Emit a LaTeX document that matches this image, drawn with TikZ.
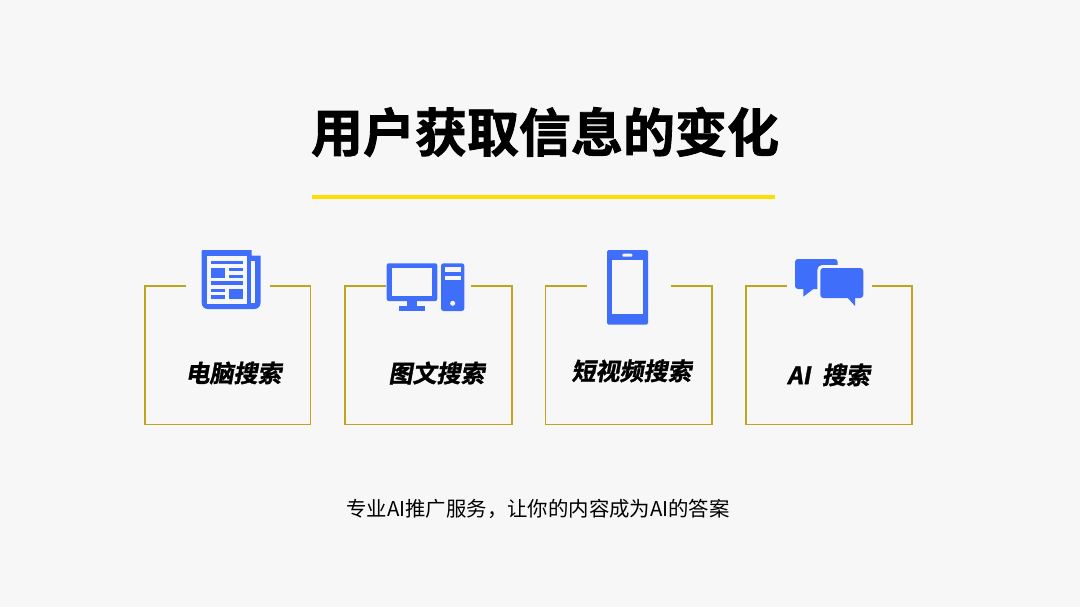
\documentclass[tikz,border=0pt]{standalone}
\usepackage{fontspec}
\newfontfamily\cjkreg{Noto Sans CJK SC}
\newfontfamily\cjkbold{Noto Sans CJK SC Bold}[FakeBold=1.6]
\newfontfamily\cjkslant{Noto Sans CJK SC Bold}[FakeSlant=0.18,FakeBold=1.4]
\definecolor{bgc}{HTML}{F7F7F7}
\definecolor{iconblue}{HTML}{3F6FFA}
\definecolor{boxgold}{HTML}{BFA51C}
\definecolor{ruley}{HTML}{FFDD00}
\tikzset{
  framebox/.style={draw=boxgold,line width=1.6pt,line join=miter},
  ico/.style={fill=iconblue,draw=none},
  icohole/.style={fill=bgc,draw=none},
  cardlabel/.style={font=\fontsize{24}{24}\selectfont\cjkslant,text=black,inner sep=0pt,anchor=center},
}
\newcommand{\cardframe}[4]{% left right gapL gapR
  \draw[framebox] (#3,285.7) -- (#1,285.7) -- (#1,424.5) -- (#2,424.5) -- (#2,285.7) -- (#4,285.7);}
\begin{document}
\begin{tikzpicture}[x=1pt,y=-1pt]
\useasboundingbox (0,0) rectangle (1080,607);
\fill[bgc] (0,0) rectangle (1080,607);

\node[font=\fontsize{52}{52}\selectfont\cjkbold,text=black,inner sep=0pt] (title) at (545,132) {用户获取信息的变化};
\fill[ruley] (312,195) rectangle (775,199);

\cardframe{144.7}{310.5}{185.7}{270.3}
\cardframe{345}{512}{386}{471}
\cardframe{545.3}{712}{586.7}{671}
\cardframe{745.7}{912}{786.7}{871.7}

% newspaper
\fill[ico] (201.7,251) arc[start angle=180,end angle=270,radius=1] -- (251.5,250) -- (251.5,255.7) -- (260.5,255.7) -- (260.5,303) arc[start angle=0,end angle=90,radius=6] -- (207.7,309) arc[start angle=90,end angle=180,radius=6] -- cycle;
\fill[icohole] (206.7,255.7) rectangle (247.3,304);
\fill[icohole] (251.2,260.7) rectangle (255,303.3);
\fill[ico] (210.7,260.7) rectangle (243.3,264);
\fill[ico] (210.7,267.7) rectangle (225,277.7);
\fill[ico] (229,268) rectangle (243.3,271);
\fill[ico] (229,274.7) rectangle (243.3,278);
\fill[ico] (210.7,281.3) rectangle (243.3,284.7);
\fill[ico] (210.7,288.7) rectangle (225,292);
\fill[ico] (210.7,295.3) rectangle (225,298.7);
\fill[ico] (229,288.7) rectangle (243.3,298.7);

% computer
\fill[ico,rounded corners=2pt] (386.7,263.3) rectangle (437.3,301);
\fill[icohole] (391.7,268.3) rectangle (432.3,296);
\fill[ico] (407.3,300) rectangle (416.7,306);
\fill[ico] (399.3,306) rectangle (425,311);
\fill[ico,rounded corners=2.5pt] (441,263.3) rectangle (464.3,311);
\fill[icohole] (444.7,267.3) rectangle (461.3,272);
\fill[icohole] (444.7,275.7) rectangle (461.3,280.3);
\fill[icohole] (452.7,303.3) circle (2.5);

% phone
\fill[ico,rounded corners=1.5pt] (607,250) rectangle (648,324.7);
\fill[icohole] (612.3,260.3) rectangle (642.7,314.3);
\fill[icohole,rounded corners=1pt] (622.3,253.7) rectangle (632.3,256.7);

% chat bubbles
\fill[ico,rounded corners=3pt] (795,259) rectangle (837.7,289);
\fill[ico] (803.3,286) -- (803.3,296.7) -- (817.3,286) -- cycle;
\fill[icohole,rounded corners=5pt] (817.3,265) rectangle (866,301);
\fill[ico,rounded corners=3pt] (820.3,268) rectangle (863.3,298);
\fill[ico] (846,296) -- (855,296) -- (855,306) -- cycle;

\node[cardlabel] (l1) at (233.5,373) {电脑搜索};
\node[cardlabel] (l2) at (436.5,373) {图文搜索};
\node[cardlabel] (l3) at (631.5,371) {短视频搜索};
\node[cardlabel] (l4) at (828.5,375) {AI\hspace{6pt} 搜索};

\node[font=\fontsize{20.4}{20.4}\selectfont\cjkreg,text=black,inner sep=0pt] (foot) at (538,509) {专业AI推广服务，让你的内容成为AI的答案};
\end{tikzpicture}
\end{document}
